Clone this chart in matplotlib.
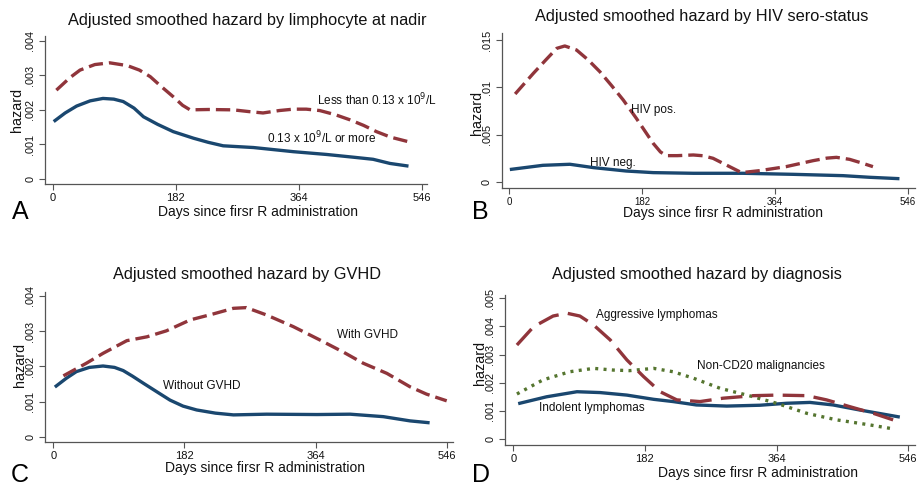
import matplotlib
matplotlib.use("Agg")
import matplotlib.pyplot as plt

plt.rcParams['font.family'] = ['Liberation Sans', 'DejaVu Sans']

W, H = 921, 487
NAVY = '#1a476f'
MAROON = '#90353b'
GREEN = '#55752f'

# ---------------- data ----------------
x_ticks = [0, 182, 364, 546]

# Panel A
a_low_day = [5, 25, 40, 62, 84, 110, 128, 144, 160, 178, 192, 203, 230, 267, 290, 311,
             335, 356, 375, 395, 418, 440, 460, 479, 500, 526]
a_low_val = [0.00257, 0.00293, 0.00315, 0.00331, 0.00336, 0.00328, 0.00315, 0.00296,
             0.00268, 0.00238, 0.00213, 0.00200, 0.00201, 0.00200, 0.00195, 0.00191,
             0.00198, 0.00202, 0.00202, 0.00198, 0.00186, 0.00171, 0.00155, 0.00137,
             0.00121, 0.00108]
a_high_day = [3, 18, 35, 55, 74, 90, 104, 120, 134, 155, 178, 208, 230, 252, 297, 356,
              405, 445, 474, 499, 524]
a_high_val = [0.00169, 0.00191, 0.00211, 0.00226, 0.00233, 0.00231, 0.00224, 0.00205,
              0.00180, 0.00158, 0.00137, 0.00118, 0.00106, 0.00096, 0.00091, 0.00079,
              0.00071, 0.00063, 0.00057, 0.00045, 0.00038]
a_yticks = [0, 0.001, 0.002, 0.003, 0.004]
a_ylabels = ['0', '.001', '.002', '.003', '.004']

# Panel B
b_pos_day = [8, 33, 50, 65, 76, 92, 108, 124, 140, 156, 174, 197, 207, 215, 230, 252,
             265, 279, 297, 318, 343, 379, 416, 435, 448, 466, 482, 498]
b_pos_val = [0.00931, 0.01149, 0.01290, 0.01412, 0.01437, 0.01395, 0.01290, 0.01166,
             0.01020, 0.00868, 0.00674, 0.00411, 0.00320, 0.00281, 0.00281, 0.00288,
             0.00280, 0.00253, 0.00183, 0.00102, 0.00123, 0.00165, 0.00228, 0.00255,
             0.00263, 0.00242, 0.00205, 0.00165]
b_neg_day = [3, 46, 83, 115, 160, 197, 252, 320, 389, 457, 493, 532]
b_neg_val = [0.00137, 0.00179, 0.00190, 0.00155, 0.00119, 0.00102, 0.00095, 0.00095,
             0.00084, 0.00070, 0.00053, 0.00039]
b_yticks = [0, 0.005, 0.01, 0.015]
b_ylabels = ['0', '.005', '.01', '.015']

# Panel C
c_with_day = [14, 46, 69, 102, 130, 157, 190, 222, 250, 268, 296, 333, 370, 403, 430,
              463, 495, 518, 546]
c_with_val = [0.00173, 0.00209, 0.00237, 0.00273, 0.00284, 0.00301, 0.00332, 0.00349,
              0.00365, 0.00367, 0.00346, 0.00313, 0.00275, 0.00240, 0.00209, 0.00180,
              0.00142, 0.00121, 0.00102]
c_without_day = [4, 18, 32, 50, 69, 85, 97, 110, 125, 145, 162, 180, 199, 225, 250, 296,
                 366, 412, 458, 495, 520]
c_without_val = [0.00144, 0.00166, 0.00185, 0.00197, 0.00201, 0.00197, 0.00188, 0.00172,
                 0.00152, 0.00126, 0.00104, 0.00087, 0.00076, 0.00067, 0.00062, 0.00064,
                 0.00063, 0.00064, 0.00057, 0.00045, 0.00040]
c_yticks = [0, 0.001, 0.002, 0.003, 0.004]
c_ylabels = ['0', '.001', '.002', '.003', '.004']

# Panel D
d_aggr_day = [5, 28, 55, 74, 92, 111, 134, 157, 180, 203, 226, 258, 290, 332, 364, 406,
              433, 465, 498, 525]
d_aggr_val = [0.00334, 0.00399, 0.00437, 0.00447, 0.00437, 0.00405, 0.00352, 0.00281,
              0.00222, 0.00168, 0.00139, 0.00133, 0.00145, 0.00154, 0.00156, 0.00154,
              0.00139, 0.00115, 0.00091, 0.00068]
d_non_day = [5, 41, 78, 111, 138, 161, 194, 221, 249, 286, 323, 364, 406, 447, 493, 525]
d_non_val = [0.00160, 0.00210, 0.00239, 0.00251, 0.00245, 0.00243, 0.00251, 0.00239,
             0.00216, 0.00180, 0.00156, 0.00127, 0.00091, 0.00068, 0.00050, 0.00036]
d_ind_day = [9, 46, 88, 120, 157, 194, 221, 253, 295, 341, 378, 410, 442, 479, 532]
d_ind_val = [0.00127, 0.00150, 0.00168, 0.00165, 0.00156, 0.00141, 0.00133, 0.00121,
             0.00117, 0.00120, 0.00127, 0.00130, 0.00121, 0.00103, 0.00079]
d_yticks = [0, 0.001, 0.002, 0.003, 0.004, 0.005]
d_ylabels = ['0', '.001', '.002', '.003', '.004', '.005']

titles = ['Adjusted smoothed hazard by limphocyte at nadir',
          'Adjusted smoothed hazard by HIV sero-status',
          'Adjusted smoothed hazard by GVHD',
          'Adjusted smoothed hazard by diagnosis']
xlabel = 'Days since firsr R administration'
ylabel = 'hazard'
letters = ['A', 'B', 'C', 'D']

fig = plt.figure(figsize=(W / 100, H / 100), dpi=100)


def fx(px):
    return px / W


def fy(py):
    return 1 - py / H


AXC = '#555555'


def make_axes(cal, xtick_size, xpad):
    x0, x546, y0, ytp, ytv, sl, sr, sb, st = cal
    ax = fig.add_axes([fx(sl), fy(sb), (sr - sl) / W, (sb - st) / H])
    kx = 546 / (x546 - x0)
    ax.set_xlim((sl - x0) * kx, (sr - x0) * kx)
    ky = ytv / (y0 - ytp)
    ax.set_ylim((y0 - sb) * ky, (y0 - st) * ky)
    for s in ['top', 'right']:
        ax.spines[s].set_visible(False)
    for s in ['left', 'bottom']:
        ax.spines[s].set_linewidth(0.9)
        ax.spines[s].set_color(AXC)
    ax.set_xticks(x_ticks)
    ax.set_xticklabels([str(t) for t in x_ticks])
    ax.tick_params(axis='both', direction='out', length=4, width=0.8,
                   color=AXC, labelcolor='#111111')
    ax.tick_params(axis='x', pad=xpad, labelsize=xtick_size)
    ax.tick_params(axis='y', pad=3, labelsize=7.8)
    return ax


def set_yt(ax, ticks, labels):
    ax.set_yticks(ticks)
    ax.set_yticklabels(labels, rotation=90, va='center', ha='right')


LW = 2.4
dash_std = (0, (4.3, 1.8))

cals = [
    (53, 421.7, 179, 40.7, 0.004, 45, 427, 183.5, 36),
    (509.3, 908, 182.3, 40, 0.015, 501.7, 915, 188.3, 33),
    (53.3, 446.7, 436.7, 296, 0.004, 45, 453, 441.7, 291.7),
    (513.3, 908.3, 439, 298.3, 0.005, 505, 915, 444.5, 295),
]

# A
ax = make_axes(cals[0], 8, 3)
ax.plot(a_high_day, a_high_val, color=NAVY, lw=LW)
ax.plot(a_low_day, a_low_val, color=MAROON, lw=LW, linestyle=dash_std)
set_yt(ax, a_yticks, a_ylabels)

# B
ax = make_axes(cals[1], 7, 2)
ax.plot(b_neg_day, b_neg_val, color=NAVY, lw=LW)
ax.plot(b_pos_day, b_pos_val, color=MAROON, lw=LW, linestyle=dash_std)
set_yt(ax, b_yticks, b_ylabels)

# C
ax = make_axes(cals[2], 8, 3)
ax.plot(c_without_day, c_without_val, color=NAVY, lw=LW)
ax.plot(c_with_day, c_with_val, color=MAROON, lw=LW, linestyle=dash_std)
set_yt(ax, c_yticks, c_ylabels)

# D
ax = make_axes(cals[3], 8, 3)
ax.plot(d_ind_day, d_ind_val, color=NAVY, lw=LW)
ax.plot(d_non_day, d_non_val, color=GREEN, lw=LW, linestyle=(0, (0.9, 1.6)))
ax.plot(d_aggr_day, d_aggr_val, color=MAROON, lw=LW, linestyle=(0, (6.5, 2.8)))
set_yt(ax, d_yticks, d_ylabels)

# Titles / labels / letters
title_pos = [(247, 20), (702, 17), (247, 275), (697, 275)]
xlab_pos = [(258, 212), (723, 212.5), (265, 468), (758, 473)]
ylab_pos = [(16.7, 110), (476.7, 113), (20, 365), (480, 363)]
letter_pos = [(12, 224), (472, 224), (11, 487), (472, 487)]

for i in range(4):
    fig.text(fx(title_pos[i][0]), fy(title_pos[i][1]), titles[i], ha='center',
             va='center', fontsize=11.8, color='#111111')
    fig.text(fx(xlab_pos[i][0]), fy(xlab_pos[i][1]), xlabel, ha='center',
             va='center', fontsize=10, color='#111111')
    fig.text(fx(ylab_pos[i][0]), fy(ylab_pos[i][1]), ylabel, ha='center',
             va='center', fontsize=10.3, rotation=90, color='#111111')
    fig.text(fx(letter_pos[i][0]), fy(letter_pos[i][1]), letters[i], ha='left',
             va='bottom', fontsize=18, color='black')

# Curve annotations
ann = [
    (316.7, 100, 'Less than 0.13 x 10$^9$/L'),
    (266.7, 138.3, '0.13 x 10$^9$/L or more'),
    (630.7, 110, 'HIV pos.'),
    (590, 163.3, 'HIV neg.'),
    (336.7, 335, 'With GVHD'),
    (163.3, 386, 'Without GVHD'),
    (596, 315, 'Aggressive lymphomas'),
    (696.7, 366, 'Non-CD20 malignancies'),
    (539.3, 408.3, 'Indolent lymphomas'),
]
for x, y, t in ann:
    fig.text(fx(x), fy(y), t, ha='left', va='center', fontsize=8.5, color='#111111')

fig.savefig('out.png', dpi=100, facecolor='white')
